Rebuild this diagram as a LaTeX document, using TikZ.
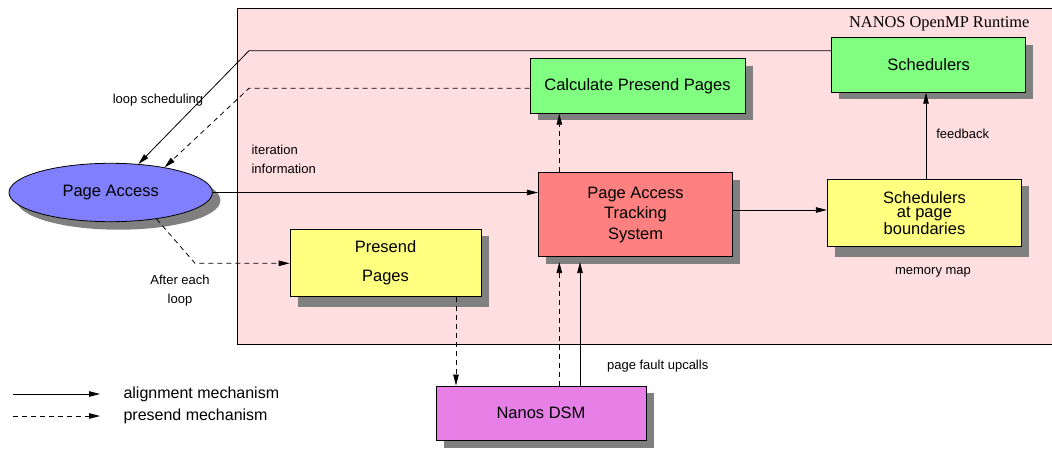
\documentclass[tikz,border=0pt]{standalone}
\usepackage{fontspec}
\setmainfont{Liberation Sans}
\newfontfamily\titlefont{Liberation Serif}
\usetikzlibrary{arrows.meta,shadows,shapes.geometric,calc}

\definecolor{rtpink}{RGB}{255,222,224}
\definecolor{boxgreen}{RGB}{128,255,128}
\definecolor{boxred}{RGB}{255,128,128}
\definecolor{boxyellow}{RGB}{255,255,128}
\definecolor{boxmagenta}{RGB}{230,128,230}
\definecolor{boxblue}{RGB}{128,128,255}
\definecolor{shgray}{RGB}{128,128,128}

\tikzset{
  boxtext/.style={font=\fontsize{16.5}{20.5}\selectfont},
  legtext/.style={font=\fontsize{16}{20}\selectfont},
  smalltext/.style={font=\fontsize{13}{19}\selectfont},
  unit/.style={draw=black, line width=0.8pt, inner sep=0pt, align=center, boxtext,
    drop shadow={shadow xshift=7.5pt, shadow yshift=-7pt, fill=shgray, opacity=1}},
  deepshadow/.style={drop shadow={shadow xshift=7.5pt, shadow yshift=-10.5pt, fill=shgray, opacity=1}},
  flow/.style={line width=0.8pt, -{Triangle[length=11pt,width=5.5pt]}},
  preflow/.style={flow, dash pattern=on 5pt off 4pt},
}

\begin{document}
\begin{tikzpicture}[x=1pt,y=-1pt]
\useasboundingbox (0,0) rectangle (1052,448);

% runtime area
\node[draw=black, line width=0.8pt, fill=rtpink, minimum width=820pt, minimum height=336pt,
      anchor=north west, inner sep=0pt] (rt) at (237,8) {};
\node[font=\titlefont\fontsize{16.4}{18}\selectfont, anchor=east] (rtlabel) at (1033,24) {NANOS OpenMP Runtime};

% components
\node[unit, fill=boxgreen, minimum width=194pt, minimum height=54.6pt] (sched) at (928.7,65) {Schedulers};
\node[unit, fill=boxgreen, minimum width=215pt, minimum height=54.6pt] (calc) at (637.5,86) {Calculate Presend Pages};
\node[unit, fill=boxred, minimum width=194.4pt, minimum height=84pt] (pats) at (635.5,214.7) {Page Access\\Tracking\\System};
\node[unit, deepshadow, fill=boxyellow, minimum width=194.4pt, minimum height=66.7pt] (bound) at (924.5,212.7)
  {Schedulers\\[-6.5pt]at page\\[-3.5pt]boundaries};
\node[unit, deepshadow, fill=boxyellow, minimum width=191pt, minimum height=67.4pt] (presend) at (385.5,263)
  {Presend\\[8.5pt]Pages};
\node[unit, fill=boxmagenta, minimum width=210pt, minimum height=54.7pt] (dsm) at (541,413.3) {Nanos DSM};
\node[unit, ellipse, fill=boxblue, minimum width=203.4pt, minimum height=58.4pt,
      drop shadow={shadow xshift=8pt, shadow yshift=-8pt, fill=shgray, opacity=1}] (pa) at (110.7,192.5) {Page Access};

% bend points and line positions
\coordinate (lsbend) at (249,50.7);
\coordinate (pbend) at (249,88.3);
\coordinate (afterbend) at (195,263.3);
\coordinate (trackrow) at (0,210);
\coordinate (fbcol) at (926,0);
\coordinate (precol) at (559.3,0);
\coordinate (faultcol) at (580,0);
\coordinate (pagecol) at (456,0);

% connectors
\draw[flow] (sched.west |- lsbend) -- (lsbend) -- (pa);
\draw[preflow] (calc.west |- pbend) -- (pbend) -- (pa.25);
\draw[flow] (pa.east) -- (pats.west |- pa.east);
\draw[flow] (pats.east |- trackrow) -- (bound.west |- trackrow);
\draw[flow] (bound.north -| fbcol) -- (sched.south -| fbcol);
\draw[preflow] (pats.north -| precol) -- (calc.south -| precol);
\draw[preflow] (pa.-30) -- (afterbend) -- (presend.west |- afterbend);
\draw[preflow] (presend.south -| pagecol) -- (dsm.north -| pagecol);
\draw[preflow] (dsm.north -| precol) -- ($(pats.south -| precol)+(0,5)$);
\draw[flow] (dsm.north -| faultcol) -- ($(pats.south -| faultcol)+(0,5)$);

% connector labels
\node[smalltext] (lslabel) at (158,100) {loop scheduling};
\node[smalltext, anchor=west, align=left] (itlabel) at (248,159.5) {iteration\\information};
\node[smalltext] (fblabel) at (962.7,134) {feedback};
\node[smalltext] (mmlabel) at (933,272.7) {memory map};
\node[smalltext, align=center] (aelabel) at (180,291) {After each\\loop};
\node[smalltext] (pflabel) at (657.7,365.7) {page fault upcalls};

% legend
\coordinate (l1a) at (13,394);
\coordinate (l1b) at (100,394);
\coordinate (l2a) at (13,416);
\coordinate (l2b) at (100,416);
\draw[flow] (l1a) -- (l1b);
\draw[preflow] (l2a) -- (l2b);
\node[legtext, anchor=west] (leg1) at (120,394) {alignment mechanism};
\node[legtext, anchor=west] (leg2) at (120,416) {presend mechanism};
\end{tikzpicture}
\end{document}
